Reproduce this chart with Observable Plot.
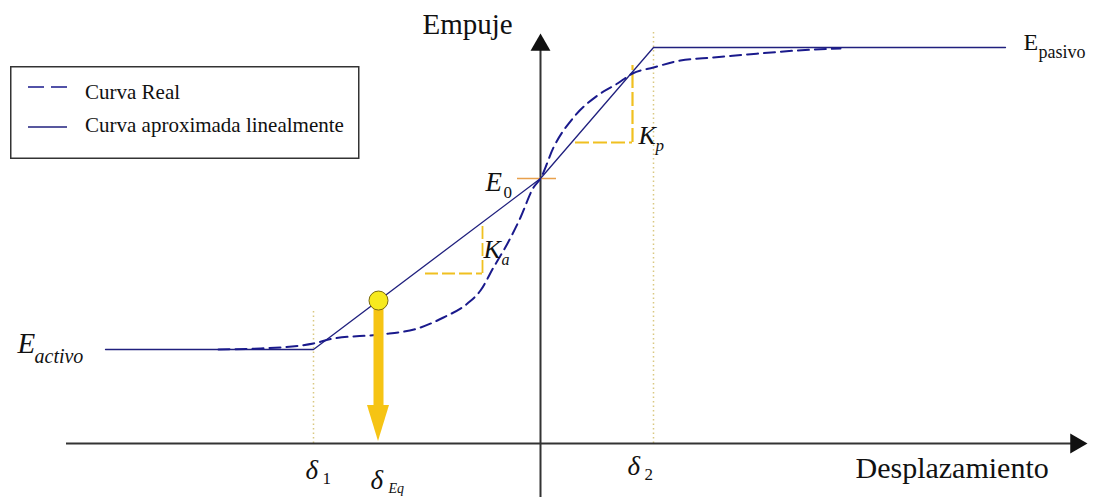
<!DOCTYPE html>
<html>
<head>
<meta charset="utf-8">
<script src="https://cdn.jsdelivr.net/npm/d3@7"></script>
<script src="https://cdn.jsdelivr.net/npm/@observablehq/plot@0.6"></script>
<style>
  body { margin: 0; background: #fff; }
  #chart { position: relative; width: 1096px; height: 497px; }
  #chart text { font-family: "Liberation Serif", "Times New Roman", "DejaVu Serif", serif; }
  #legend { position: absolute; left: 10px; top: 66px; }
</style>
</head>
<body>
<div id="chart"></div>
<script>
// Empuje–desplazamiento: curva real y su aproximación lineal por tramos
const empujeActivo = 9.4;
const empujeInicial = 26.5;
const empujePasivo = 39.6;
const delta1 = -22.7;
const delta2 = 11.3;
const deltaEq = -16.2;

// Curva real (trazo discontinuo)
const desplazamientoReal = [-32.2, -28, -22.7, -20.7, -16, -12.3, -9.7, -7.3, -6, -4.7, -3.3, -2, -0.7, 0,
  1.3, 3.3, 5.7, 7.7, 9.2, 11.3, 14, 17.3, 20.7, 25.7, 30];
const empujeReal = [9.4, 9.5, 10.0, 10.5, 10.9, 11.5, 12.6, 14.0, 15.3, 17.6, 20.0, 22.6, 25.6, 26.5,
  29.6, 32.6, 34.8, 36.0, 37.0, 37.6, 38.3, 38.6, 38.9, 39.3, 39.5];

// Curva aproximada linealmente
const desplazamientoLineal = [-43.5, delta1, 0, delta2, 46.5];
const empujeLineal = [empujeActivo, empujeActivo, empujeInicial, empujePasivo, empujePasivo];

// Triángulos de pendiente K_a y K_p
const pendienteKa = {x: -5.8, xIzq: -11.5, yArriba: 22.1, yAbajo: 17.0};
const pendienteKp = {x: 9.2, xIzq: 3.5, yArriba: 37.8, yAbajo: 30.1};

// Extensión de los ejes
const ejeX = [-47.4, 53.5];
const ejeY = [-5.4, 39.5];

const real = desplazamientoReal.map((d, i) => ({d, e: empujeReal[i]}));
const lineal = desplazamientoLineal.map((d, i) => ({d, e: empujeLineal[i]}));

// Punto de equilibrio sobre la recta activa
const empujeEq = empujeActivo + (deltaEq - delta1) / (0 - delta1) * (empujeInicial - empujeActivo);

const azul = "#20207e";
const amarillo = "#f0c020";
const oro = "#f6c414";
const punteado = "#d9c880";
const serif = "Liberation Serif";

const txt = (t, x, y, opts) => Plot.text([{t, x, y}], {
  x: "x", y: "y", text: "t", textAnchor: "start", lineAnchor: "bottom",
  fill: "#111", fontFamily: serif, ...opts
});

const cabezaFlecha = [
  {y: 3.8, x1: deltaEq - 1.1, x2: deltaEq + 1.1},
  {y: 0.2, x1: deltaEq, x2: deltaEq}
];

const plot = Plot.plot({
  width: 1096,
  height: 497,
  margin: 0,
  x: {domain: [-54, 55.6], axis: null},
  y: {domain: [-5.4, 44.3], axis: null},
  style: {background: "#fff", fontFamily: serif},
  marks: [
    // líneas de referencia δ1 y δ2
    Plot.ruleX([delta1], {y1: 0, y2: 13.2, stroke: punteado, strokeWidth: 1.5, strokeDasharray: "1.5,3"}),
    Plot.ruleX([delta2], {y1: 0, y2: 41.3, stroke: punteado, strokeWidth: 1.5, strokeDasharray: "1.5,3"}),
    // ejes
    Plot.ruleY([0], {x1: ejeX[0], x2: ejeX[1], stroke: "#333", strokeWidth: 2}),
    Plot.ruleX([0], {y1: ejeY[0], y2: ejeY[1], stroke: "#333", strokeWidth: 2}),
    Plot.dot([{x: 53.55, y: 0}], {x: "x", y: "y", symbol: "triangle", r: 7.4, rotate: 90, fill: "#111", stroke: "none"}),
    Plot.dot([{x: 0, y: 39.85}], {x: "x", y: "y", symbol: "triangle", r: 7.4, fill: "#111", stroke: "none"}),
    // E0
    Plot.ruleY([empujeInicial], {x1: -2.3, x2: 1.6, stroke: "#e8a04c", strokeWidth: 1.5}),
    // triángulos de pendiente
    Plot.ruleX([pendienteKa.x], {y1: pendienteKa.yAbajo, y2: pendienteKa.yArriba, stroke: amarillo, strokeWidth: 1.8, strokeDasharray: "13,4"}),
    Plot.ruleY([pendienteKa.yAbajo], {x1: pendienteKa.xIzq, x2: pendienteKa.x, stroke: amarillo, strokeWidth: 1.8, strokeDasharray: "13,4"}),
    Plot.ruleX([pendienteKp.x], {y1: pendienteKp.yAbajo, y2: pendienteKp.yArriba, stroke: amarillo, strokeWidth: 2.2, strokeDasharray: "14,4"}),
    Plot.ruleY([pendienteKp.yAbajo], {x1: pendienteKp.xIzq, x2: pendienteKp.x, stroke: amarillo, strokeWidth: 2.2, strokeDasharray: "14,4"}),
    // curvas
    Plot.line(lineal, {x: "d", y: "e", stroke: azul, strokeWidth: 1.3}),
    Plot.line(real, {x: "d", y: "e", stroke: "#1a1a8c", strokeWidth: 2, strokeDasharray: "11,6", curve: "monotone-x"}),
    // flecha de equilibrio
    Plot.ruleX([deltaEq], {y1: 3.6, y2: empujeEq - 0.6, stroke: oro, strokeWidth: 10}),
    Plot.areaX(cabezaFlecha, {x1: "x1", x2: "x2", y: "y", fill: oro}),
    Plot.dot([{x: deltaEq, y: empujeEq}], {x: "x", y: "y", r: 9.5, fill: "#f7ea1e", stroke: "#7a6a10", strokeWidth: 1}),
    // rótulos
    txt("Empuje", -11.8, 41.0, {fontSize: 29}),
    txt("Desplazamiento", 31.5, -3.4, {fontSize: 30}),
    txt("E", -52.3, 9.1, {fontSize: 29, fontStyle: "italic"}),
    txt("activo", -50.6, 8.1, {fontSize: 20, fontStyle: "italic"}),
    txt("E", 48.3, 39.4, {fontSize: 24}),
    txt("pasivo", 49.8, 38.6, {fontSize: 18}),
    txt("E", -5.5, 25.3, {fontSize: 27, fontStyle: "italic"}),
    txt("0", -3.7, 24.6, {fontSize: 17}),
    txt("K", -5.7, 18.6, {fontSize: 26, fontStyle: "italic"}),
    txt("a", -3.9, 17.9, {fontSize: 16, fontStyle: "italic"}),
    txt("K", 9.8, 30.0, {fontSize: 26, fontStyle: "italic"}),
    txt("p", 11.5, 29.3, {fontSize: 17, fontStyle: "italic"}),
    txt("δ", delta1 - 0.8, -3.5, {fontSize: 27, fontStyle: "italic"}),
    txt("1", delta1 + 0.9, -4.0, {fontSize: 17}),
    txt("δ", delta2 - 2.6, -3.1, {fontSize: 27, fontStyle: "italic"}),
    txt("2", delta2 - 0.9, -3.6, {fontSize: 17}),
    txt("δ", deltaEq - 0.8, -4.5, {fontSize: 27, fontStyle: "italic"}),
    txt("Eq", deltaEq + 1.0, -4.95, {fontSize: 14, fontStyle: "italic"})
  ]
});

const chart = document.getElementById("chart");
chart.appendChild(plot);

// Leyenda
const legend = d3.select(chart).append("svg")
  .attr("id", "legend")
  .attr("width", 350).attr("height", 94);
legend.append("rect")
  .attr("x", 0.75).attr("y", 0.75).attr("width", 348).attr("height", 91.5)
  .attr("fill", "#fff").attr("stroke", "#333").attr("stroke-width", 1.5);
legend.append("line")
  .attr("x1", 18).attr("x2", 57).attr("y1", 21).attr("y2", 21)
  .attr("stroke", "#1a1a8c").attr("stroke-width", 1.5).attr("stroke-dasharray", "16,7");
legend.append("line")
  .attr("x1", 18).attr("x2", 57).attr("y1", 61).attr("y2", 61)
  .attr("stroke", azul).attr("stroke-width", 1.5);
const items = ["Curva Real", "Curva aproximada linealmente"];
legend.selectAll("text.item").data(items).join("text")
  .attr("class", "item")
  .attr("x", 75).attr("y", (d, i) => 33 + i * 33)
  .attr("font-size", 21).attr("fill", "#111")
  .text(d => d);
</script>
</body>
</html>
